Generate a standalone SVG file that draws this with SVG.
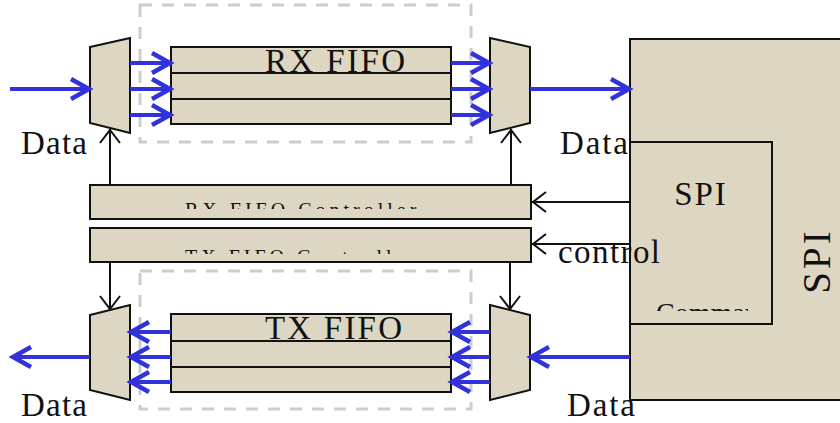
<svg xmlns="http://www.w3.org/2000/svg" width="840" height="423" viewBox="0 0 840 423">
<style>
.box{fill:#ddd6c2;stroke:#111;stroke-width:2}
.dash{fill:none;stroke:#cdcdcd;stroke-width:3;stroke-dasharray:12 10}
.blue{fill:none;stroke:#3232dc;stroke-width:4;marker-end:url(#bh)}
.blk{fill:none;stroke:#111;stroke-width:2;marker-end:url(#ah)}
.t{font-family:'Liberation Serif',Tinos,'Times New Roman',Times,serif;fill:#111}
</style>
<defs>
<marker id="bh" markerUnits="userSpaceOnUse" markerWidth="26" markerHeight="26" viewBox="0 0 26 26" refX="22" refY="12" orient="auto"><path d="M3,2 L21,12 L3,22" fill="none" stroke="#3232dc" stroke-width="4.5"/></marker>
<marker id="ah" markerUnits="userSpaceOnUse" markerWidth="22" markerHeight="22" viewBox="0 0 22 22" refX="16" refY="11" orient="auto"><path d="M2,1 L15,11 L2,21" fill="none" stroke="#111" stroke-width="2"/></marker>
<clipPath id="c1"><rect x="90" y="185" width="441" height="24"/></clipPath>
<clipPath id="c2"><rect x="90" y="228" width="441" height="26"/></clipPath>
<clipPath id="c3"><rect x="630" y="142" width="118" height="169"/></clipPath>
</defs>

<g id="rx-dash"><rect class="dash" x="140" y="5" width="331" height="137"/></g>
<g id="tx-dash"><rect class="dash" x="140" y="271" width="331" height="138"/></g>

<g id="spi">
<rect class="box" x="630" y="39" width="215" height="361"/>
<text class="t" font-family="Liberation Serif, serif" font-size="39" letter-spacing="3" text-anchor="middle" transform="translate(830,261) rotate(-90)">SPI</text>
</g>
<g id="spi-command">
<rect class="box" x="630" y="142" width="142" height="182"/>
<text class="t" font-family="Liberation Serif, serif" x="701" y="205" font-size="33" letter-spacing="2" text-anchor="middle">SPI</text>
<text class="t" font-family="Liberation Serif, serif" x="656" y="322" font-size="28" clip-path="url(#c3)">Command</text>
</g>

<g id="rx-mux-in"><polygon class="box" points="90,47 130,38 130,133 90,123"/></g>
<g id="rx-fifo">
<rect class="box" x="171" y="47" width="280" height="77"/>
<line x1="171" y1="73" x2="451" y2="73" stroke="#111" stroke-width="2"/>
<line x1="171" y1="99" x2="451" y2="99" stroke="#111" stroke-width="2"/>
<text class="t" font-family="Liberation Serif, serif" x="265" y="72" font-size="33" textLength="140">RX FIFO</text>
</g>
<g id="rx-mux-out"><polygon class="box" points="490,38 530,47 530,123 490,133"/></g>

<g id="rx-ctrl">
<rect class="box" x="90" y="185" width="441" height="34"/>
<text class="t" font-family="Liberation Serif, serif" x="185" y="217" font-size="20" letter-spacing="4" clip-path="url(#c1)">RX FIFO Controller</text>
</g>
<g id="tx-ctrl">
<rect class="box" x="90" y="228" width="441" height="34"/>
<text class="t" font-family="Liberation Serif, serif" x="185" y="264" font-size="20" letter-spacing="4" clip-path="url(#c2)">TX FIFO Controller</text>
</g>

<g id="tx-mux-out"><polygon class="box" points="90,315 130,305 130,400 90,390"/></g>
<g id="tx-fifo">
<rect class="box" x="171" y="314" width="280" height="78"/>
<line x1="171" y1="341" x2="451" y2="341" stroke="#111" stroke-width="2"/>
<line x1="171" y1="367" x2="451" y2="367" stroke="#111" stroke-width="2"/>
<text class="t" font-family="Liberation Serif, serif" x="265" y="339" font-size="33" textLength="137">TX FIFO</text>
</g>
<g id="tx-mux-in"><polygon class="box" points="490,305 530,315 530,390 490,400"/></g>

<g id="connectors">
<line class="blue" x1="10" y1="89" x2="90" y2="89"/>
<line class="blue" x1="130" y1="63" x2="171" y2="63"/>
<line class="blue" x1="130" y1="89" x2="171" y2="89"/>
<line class="blue" x1="130" y1="115" x2="171" y2="115"/>
<line class="blue" x1="451" y1="63" x2="490" y2="63"/>
<line class="blue" x1="451" y1="89" x2="490" y2="89"/>
<line class="blue" x1="451" y1="115" x2="490" y2="115"/>
<line class="blue" x1="530" y1="89" x2="630" y2="89"/>

<line class="blue" x1="630" y1="357" x2="530" y2="357"/>
<line class="blue" x1="490" y1="332" x2="451" y2="332"/>
<line class="blue" x1="490" y1="357" x2="451" y2="357"/>
<line class="blue" x1="490" y1="382" x2="451" y2="382"/>
<line class="blue" x1="171" y1="332" x2="130" y2="332"/>
<line class="blue" x1="171" y1="357" x2="130" y2="357"/>
<line class="blue" x1="171" y1="382" x2="130" y2="382"/>
<line class="blue" x1="90" y1="357" x2="12" y2="357"/>

<line class="blk" x1="110" y1="185" x2="110" y2="129"/>
<line class="blk" x1="511" y1="185" x2="511" y2="129"/>
<line class="blk" x1="630" y1="202" x2="532" y2="202"/>
<line class="blk" x1="630" y1="244" x2="532" y2="244"/>
<line class="blk" x1="110" y1="262" x2="110" y2="310"/>
<line class="blk" x1="510" y1="262" x2="510" y2="310"/>
</g>

<g id="labels">
<text class="t" font-family="Liberation Serif, serif" x="21" y="154" font-size="33" textLength="66">Data</text>
<text class="t" font-family="Liberation Serif, serif" x="560" y="154" font-size="33" textLength="68">Data</text>
<text class="t" font-family="Liberation Serif, serif" x="558" y="263" font-size="33" textLength="102">control</text>
<text class="t" font-family="Liberation Serif, serif" x="21" y="416" font-size="33" textLength="66">Data</text>
<text class="t" font-family="Liberation Serif, serif" x="567" y="416" font-size="33" textLength="68">Data</text>
</g>
</svg>
